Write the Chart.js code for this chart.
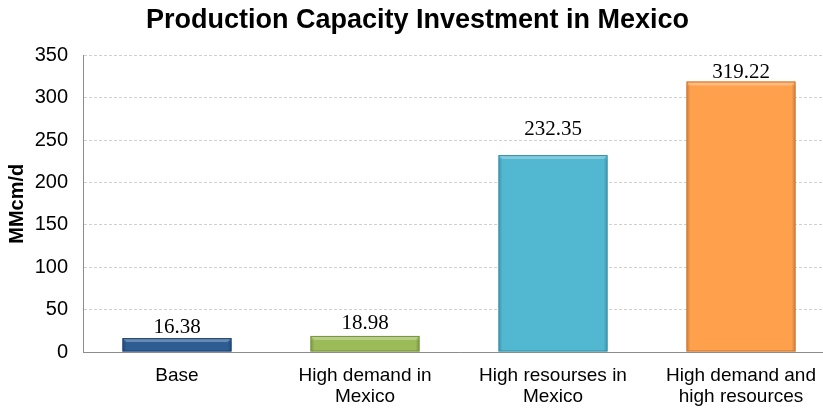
<!DOCTYPE html>
<html>
<head>
<meta charset="utf-8">
<script src="https://cdn.jsdelivr.net/npm/chart.js@4"></script>
<style>
  html, body { margin: 0; padding: 0; background: #fff; overflow: hidden; }
  #wrap { width: 842px; height: 408px; }
</style>
</head>
<body>
<div id="wrap"><canvas id="capChart"></canvas></div>
<script>
const categories = [
    ['Base'],
    ['High demand in', 'Mexico'],
    ['High resourses in', 'Mexico'],
    ['High demand and', 'high resources']
];
const capacity = [16.38, 18.98, 232.35, 319.22];
const barColors = ['#2E5D93', '#9BBB59', '#52B8D2', '#FFA04D'];
const edgeColors = ['#1F4370', '#76923C', '#3A8FA6', '#C87533'];
const yTicks = [0, 50, 100, 150, 200, 250, 300, 350];

const sansFont = 'Arial, "Liberation Sans", sans-serif';
// gap in px between each value label and its bar (labels were placed by hand)
const labelGap = [5, 7, 20, 3];

// light top bevel and darker sides, drawn over each bar
const bevelPlugin = {
    id: 'bevel',
    afterDatasetsDraw(chart) {
        const ctx = chart.ctx;
        chart.getDatasetMeta(0).data.forEach((bar, i) => {
            const left = bar.x - bar.width / 2;
            const right = bar.x + bar.width / 2;
            const top = bar.y;
            const bottom = bar.base;
            const h = bottom - top;
            ctx.save();
            // top bevel
            ctx.fillStyle = 'rgba(255,255,255,0.28)';
            ctx.beginPath();
            ctx.moveTo(left, top);
            ctx.lineTo(right, top);
            ctx.lineTo(right - 4, top + 4);
            ctx.lineTo(left + 4, top + 4);
            ctx.closePath();
            ctx.fill();
            // side shading
            ctx.fillStyle = 'rgba(0,0,0,0.10)';
            ctx.fillRect(left, top + 4, 3, h - 4);
            ctx.fillRect(right - 3, top + 4, 3, h - 4);
            ctx.strokeStyle = edgeColors[i];
            ctx.lineWidth = 1;
            ctx.strokeRect(left + 0.5, top + 0.5, right - left - 1, h - 1);
            ctx.restore();
        });
    }
};

// value above each bar
const valueLabels = {
    id: 'valueLabels',
    afterDatasetsDraw(chart) {
        const ctx = chart.ctx;
        ctx.save();
        ctx.font = '21px "Liberation Serif", "Times New Roman", serif';
        ctx.fillStyle = '#000';
        ctx.textAlign = 'center';
        ctx.textBaseline = 'alphabetic';
        chart.getDatasetMeta(0).data.forEach((bar, i) => {
            ctx.fillText(capacity[i].toFixed(2), bar.x, bar.y - labelGap[i]);
        });
        ctx.restore();
    }
};

const ctx = document.getElementById('capChart').getContext('2d');
const capChart = new Chart(ctx, {
    type: 'bar',
    data: {
        labels: categories,
        datasets: [{
            label: 'MMcm/d',
            data: capacity,
            backgroundColor: barColors,
            borderWidth: 0,
            barPercentage: 0.58,
            categoryPercentage: 1
        }]
    },
    options: {
        responsive: true,
        maintainAspectRatio: false,
        animation: false,
        layout: { padding: { left: 0, right: 7, top: 0, bottom: 0 } },
        plugins: {
            legend: { display: false },
            tooltip: { enabled: false },
            title: {
                display: true,
                text: 'Production Capacity Investment in Mexico',
                color: '#000',
                font: { family: sansFont, size: 27, weight: 'bold' },
                padding: { top: 4, bottom: 19 }
            }
        },
        scales: {
            x: {
                afterFit(scale) { scale.height = 56; },
                grid: { display: false, drawTicks: false },
                border: { display: true, color: '#8c8c8c' },
                ticks: {
                    color: '#000',
                    padding: 13,
                    font: { family: sansFont, size: 19, lineHeight: 1.1 }
                }
            },
            y: {
                min: 0,
                max: 350,
                afterFit(scale) { scale.width = 83; },
                afterBuildTicks(scale) { scale.ticks = yTicks.map(v => ({ value: v })); },
                grid: {
                    color: '#d0d0d0',
                    drawTicks: false
                },
                border: { display: true, color: '#8c8c8c', dash: [3, 2] },
                ticks: {
                    color: '#000',
                    padding: 15,
                    font: { family: sansFont, size: 20 }
                },
                title: {
                    display: true,
                    text: 'MMcm/d',
                    color: '#000',
                    padding: { top: 5, bottom: 0 },
                    font: { family: sansFont, size: 20, weight: 'bold' }
                }
            }
        }
    },
    plugins: [bevelPlugin, valueLabels]
});
</script>
</body>
</html>
